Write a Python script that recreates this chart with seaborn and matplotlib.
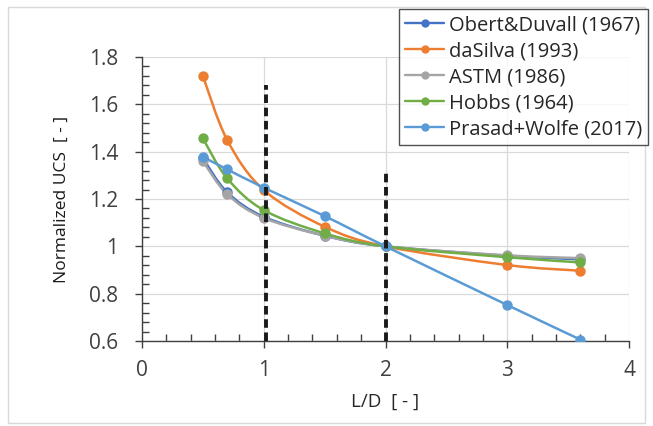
import numpy as np
import pandas as pd
import matplotlib
matplotlib.use("Agg")
import matplotlib.pyplot as plt
from matplotlib.ticker import MultipleLocator
from matplotlib.patches import Rectangle, PathPatch
from matplotlib.path import Path
import seaborn as sns

# ---- data ----
ld = [0.5, 0.7, 1.0, 1.5, 2.0, 3.0, 3.6]
series_names = ["Obert&Duvall (1967)", "daSilva (1993)", "ASTM (1986)",
                "Hobbs (1964)", "Prasad+Wolfe (2017)"]
obert = [1.372, 1.228, 1.125, 1.045, 1.0, 0.96, 0.945]
dasilva = [1.72, 1.449, 1.238, 1.083, 1.0, 0.921, 0.897]
astm = [1.36, 1.22, 1.12, 1.045, 1.0, 0.962, 0.95]
hobbs = [1.456, 1.287, 1.153, 1.055, 1.0, 0.954, 0.932]
prasad = [1.378, 1.325, 1.248, 1.128, 1.0, 0.752, 0.606]
colors = ["#4472C4", "#ED7D31", "#A5A5A5", "#70AD47", "#5B9BD5"]
vlines_x = [1.02, 2.0]
vlines_top = [1.68, 1.32]

all_series = [obert, dasilva, astm, hobbs, prasad]
rows = []
for name, vals in zip(series_names, all_series):
    for x, y in zip(ld, vals):
        rows.append({"L/D": x, "UCS": y, "series": name})
df = pd.DataFrame(rows)

sns.set_theme(style="white")
plt.rcParams['font.family'] = ['Open Sans', 'DejaVu Sans']

fig = plt.figure(figsize=(6.53, 4.26), dpi=100)
ax = fig.add_axes([142/653, 1-341/426, (629-142)/653, (341-57)/426])

sns.lineplot(data=df, x="L/D", y="UCS", hue="series", hue_order=series_names,
             palette=colors, marker="o", markersize=7.5, markeredgewidth=0,
             linewidth=0, ax=ax, sort=False, legend=True, zorder=4)


def smooth_path(xs, ys):
    pts = np.column_stack([xs, ys])
    n = len(pts)
    verts = [pts[0]]
    codes = [Path.MOVETO]
    for i in range(n - 1):
        p0 = pts[i - 1] if i > 0 else pts[i]
        p1 = pts[i]
        p2 = pts[i + 1]
        p3 = pts[i + 2] if i + 2 < n else pts[i + 1]
        c1 = p1 + (p2 - p0) / 6.0
        c2 = p2 - (p3 - p1) / 6.0
        verts += [c1, c2, p2]
        codes += [Path.CURVE4] * 3
    return Path(verts, codes)


for vals, c in zip(all_series, colors):
    ax.add_patch(PathPatch(smooth_path(ld, vals), fill=False, edgecolor=c,
                           lw=1.8, zorder=3, capstyle="round"))

for xv, top in zip(vlines_x, vlines_top):
    ax.plot([xv, xv], [0.6, top], color="#1a1a1a", lw=2.8,
            linestyle=(0, (2.2, 1.2)), zorder=5)

ax.set_xlim(0, 4)
ax.set_ylim(0.6, 1.8)
ax.xaxis.set_minor_locator(MultipleLocator(0.2))
ax.yaxis.set_minor_locator(MultipleLocator(0.04))
ax.set_xticks([0, 1, 2, 3, 4])
ax.set_xticklabels(["0", "1", "2", "3", "4"])
ax.set_yticks([0.6, 0.8, 1.0, 1.2, 1.4, 1.6, 1.8])
ax.set_yticklabels(["0.6", "0.8", "1", "1.2", "1.4", "1.6", "1.8"])
ax.grid(True, which="major", color="#d9d9d9", lw=0.9)
ax.set_axisbelow(True)
for s in ["top", "right"]:
    ax.spines[s].set_visible(False)
for s in ["left", "bottom"]:
    ax.spines[s].set_color("#404040")
    ax.spines[s].set_linewidth(1.0)
ax.tick_params(which="major", direction="out", length=5, width=1, color="#404040",
               labelsize=15, labelcolor="#404040")
ax.tick_params(axis="y", which="major", pad=12)
ax.tick_params(axis="x", which="major", pad=9)
ax.tick_params(which="minor", direction="in", length=5, width=1, color="#404040")
ax.tick_params(axis="x", which="both", bottom=True)
ax.tick_params(axis="y", which="both", left=True)
ax.set_xlabel("L/D  [ - ]", fontsize=13.5, color="#262626", labelpad=8)
ax.set_ylabel("Normalized UCS  [ - ]", fontsize=12.5, color="#1a1a1a", labelpad=14)

handles, labels = ax.get_legend_handles_labels()
ax.legend_.remove()
for h in handles:
    h.set_linewidth(1.7)
    h.set_markersize(6)
leg = fig.legend(handles, labels, loc="upper right", bbox_to_anchor=(648/653, 1-9/426),
                 frameon=True, fancybox=False, fontsize=14.5, handlelength=1.9,
                 handletextpad=0.25, labelspacing=0.3, borderpad=0.3,
                 borderaxespad=0)
leg.get_frame().set_edgecolor("#262626")
leg.get_frame().set_linewidth(1.0)
for t in leg.get_texts():
    t.set_color("#262626")

fig.patches.append(Rectangle((8/653, 3/426), 1-16/653, 1-10/426, transform=fig.transFigure,
                             fill=False, edgecolor="#d9d9d9", lw=1.0))

fig.savefig("out.png", dpi=100)
